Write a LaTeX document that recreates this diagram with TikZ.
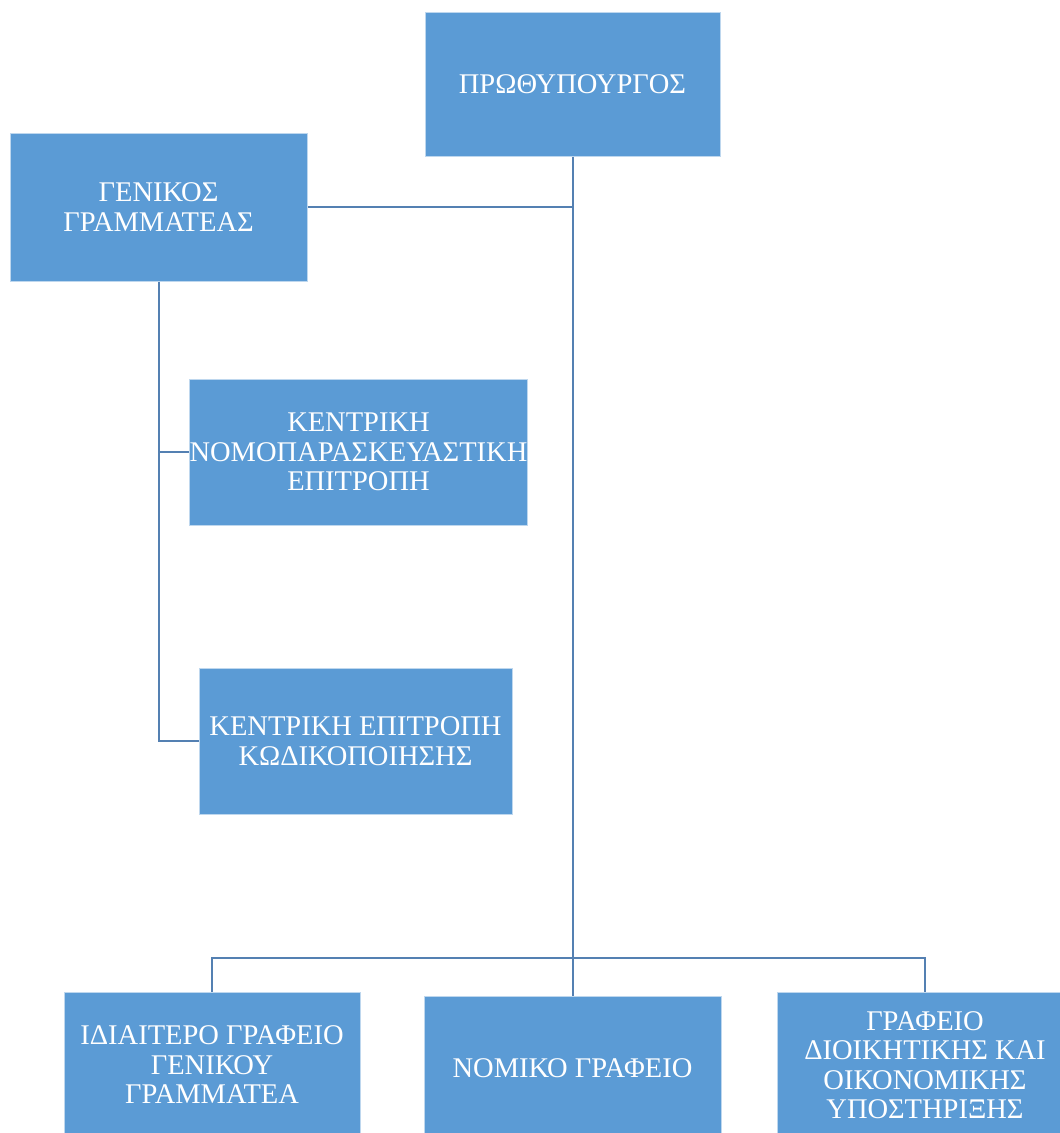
\documentclass[tikz,border=0pt]{standalone}
\usepackage{fontspec}
\setmainfont{Liberation Serif}
\definecolor{boxblue}{RGB}{91,155,213}
\definecolor{boxedge}{RGB}{190,215,238}
\definecolor{linkblue}{RGB}{84,128,178}
\begin{document}
\begin{tikzpicture}[x=1pt,y=-1pt,
  orgbox/.style={rectangle, fill=boxblue, draw=boxedge, line width=1pt, text=white,
    align=center, inner sep=0pt, font=\fontsize{28.5}{29.5}\selectfont},
  link/.style={draw=linkblue, line width=2pt}]
\useasboundingbox (0,0) rectangle (1060,1133);
\clip (0,0) rectangle (1060,1133);
\node[orgbox, minimum width=295, minimum height=144] (pm) at (572.5,84) {ΠΡΩΘΥΠΟΥΡΓΟΣ};
\node[orgbox, minimum width=297, minimum height=148] (gg) at (158.5,207) {ΓΕΝΙΚΟΣ\\ΓΡΑΜΜΑΤΕΑΣ};
\node[orgbox, minimum width=335, minimum height=146] (k1) at (358.5,452) {ΚΕΝΤΡΙΚΗ\\ΝΟΜΟΠΑΡΑΣΚΕΥΑΣΤΙΚΗ\\ΕΠΙΤΡΟΠΗ};
\node[orgbox, minimum width=313, minimum height=146] (k2) at (355.5,741) {ΚΕΝΤΡΙΚΗ ΕΠΙΤΡΟΠΗ\\ΚΩΔΙΚΟΠΟΙΗΣΗΣ};
\node[orgbox, minimum width=296, minimum height=146] (b1) at (212,1065) {ΙΔΙΑΙΤΕΡΟ ΓΡΑΦΕΙΟ\\ΓΕΝΙΚΟΥ\\ΓΡΑΜΜΑΤΕΑ};
\node[orgbox, minimum width=297, minimum height=144] (b2) at (572.5,1068) {ΝΟΜΙΚΟ ΓΡΑΦΕΙΟ};
\node[orgbox, minimum width=296, minimum height=146] (b3) at (925,1065) {ΓΡΑΦΕΙΟ\\ΔΙΟΙΚΗΤΙΚΗΣ ΚΑΙ\\ΟΙΚΟΝΟΜΙΚΗΣ\\ΥΠΟΣΤΗΡΙΞΗΣ};
\coordinate (bus) at (572.5,958);
\draw[link] (pm.south) -- (b2.north);
\draw[link] (gg.east) -- (gg.east -| pm.south);
\draw[link] (gg.south) -- (gg.south |- k2.west) -- (k2.west);
\draw[link] (gg.south |- k1.west) -- (k1.west);
\draw[link] (b1.north) -- (b1.north |- bus) -- (b3.north |- bus) -- (b3.north);
\end{tikzpicture}
\end{document}
